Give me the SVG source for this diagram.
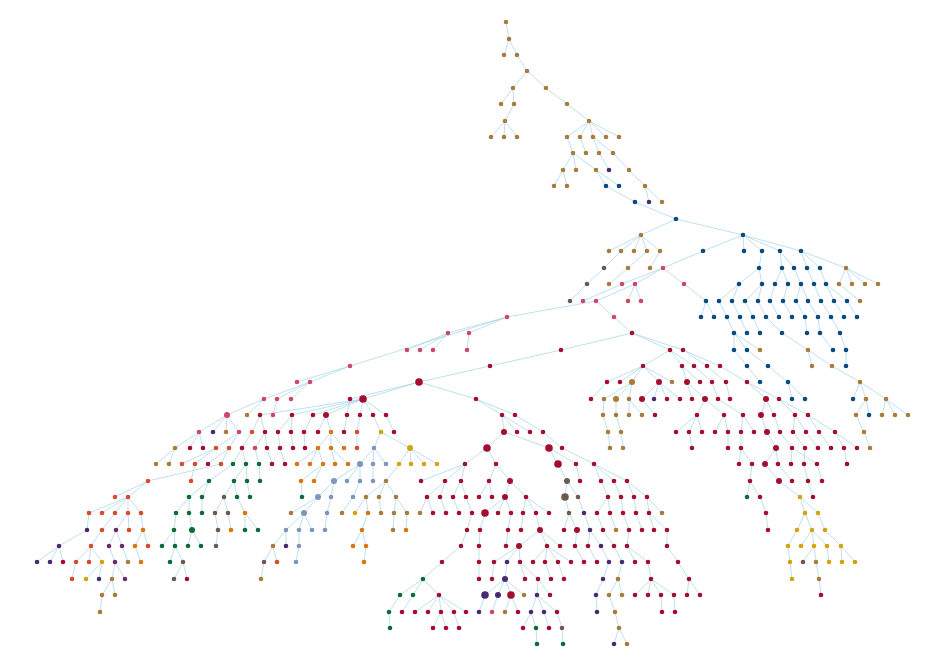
<svg xmlns="http://www.w3.org/2000/svg" width="946" height="672" viewBox="0 0 946 672">
<style>
#connectors path{fill:none;stroke:#9fd2e6;stroke-width:0.8;stroke-opacity:0.85}
circle{r:2.3px}
.M{r:3px}.L{r:3.8px}
.b{fill:#a87b3b}.u{fill:#084a7c}.p{fill:#482a70}.k{fill:#cf4767}.c{fill:#a50d2f}.r{fill:#d94a2b}.o{fill:#d9740e}.g{fill:#d4a30c}.s{fill:#7d95b7}.n{fill:#0b6b36}.m{fill:#6d5a4f}.v{fill:#6c2a6b}
</style>
<rect width="946" height="672" fill="#fff"/>
<g id="connectors">
<path d="M506 22L509 39M509 39L504 55M509 39L517 55M517 55L527 71M527 71L513 88M527 71L546 88M513 88L501 104M513 88L514 104M514 104L505 121M505 121L491 137M505 121L504 137M505 121L517 137M546 88L567 104M567 104L589 121M589 121L567 137M589 121L580 137M589 121L593 137M589 121L606 137M589 121L619 137M567 137L573 153M580 137L586 153M593 137L599 153M593 137L613 153M573 153L563 170M573 153L576 170M573 153L596 170M599 153L609 170M613 153L629 170M563 170L554 186M563 170L567 186M596 170L606 186M596 170L619 186M629 170L645 186M606 186L635 202M645 186L649 202M645 186L662 202M635 202L676 219M676 219L641 235M676 219L743 235"/>
<path d="M641 235L609 251M641 235L621 251M641 235L634 251M641 235L647 251M641 235L660 251M621 251L604 268M647 251L628 268M660 251L650 268M604 268L587 284M628 268L609 284M587 284L570 301M743 235L703 251M743 235L744 251M743 235L762 251M743 235L780 251M743 235L801 251M703 251L663 268M762 251L759 268M780 251L782 268M780 251L794 268M801 251L807 268M801 251L820 268M801 251L846 268M663 268L622 284M663 268L635 284M663 268L684 284M759 268L739 284M759 268L762 284M782 268L775 284M782 268L788 284M794 268L801 284M807 268L814 284M820 268L826 284M846 268L839 284M846 268L852 284M846 268L865 284M846 268L878 284M622 284L583 301M635 284L596 301M635 284L628 301M635 284L641 301M684 284L706 301M739 284L719 301M739 284L732 301M762 284L745 301M762 284L758 301M775 284L770 301M788 284L783 301M801 284L796 301M801 284L808 301M814 284L821 301M826 284L834 301M826 284L847 301M839 284L860 301"/>
<path d="M596 301L507 317M596 301L614 317M706 301L701 317M706 301L714 317M719 301L727 317M732 301L740 317M745 301L753 317M758 301L766 317M770 301L779 317M783 301L792 317M796 301L805 317M808 301L818 317M821 301L831 317M834 301L844 317M847 301L857 317M507 317L448 333M507 317L469 333M507 317L350 366M614 317L632 333M727 317L734 333M740 317L747 333M753 317L760 333M766 317L782 333M805 317L807 333M818 317L820 333M831 317L840 333M448 333L407 350M448 333L420 350M448 333L433 350M469 333L467 350M632 333L561 350M632 333L670 350M632 333L683 350M734 333L734 350M734 333L747 350M734 333L760 350M782 333L808 350M820 333L833 350M840 333L846 350M561 350L490 366M670 350L643 366M670 350L682 366M670 350L694 366M683 350L707 366M683 350L720 366M734 350L747 366M747 350L768 366M808 350L812 366M808 350L832 366M846 350L846 366"/>
<path d="M350 366L297 382M350 366L310 382M490 366L419 382M643 366L607 382M643 366L620 382M643 366L632 382M643 366L659 382M643 366L672 382M682 366L687 382M682 366L700 382M694 366L712 382M707 366L726 382M720 366L747 382M747 366L760 382M768 366L788 382M832 366L860 382M310 382L264 399M310 382L277 399M310 382L291 399M419 382L350 399M419 382L363 399M419 382L476 399M607 382L591 399M632 382L604 399M632 382L616 399M632 382L629 399M659 382L642 399M659 382L654 399M659 382L667 399M659 382L680 399M687 382L692 399M687 382L705 399M712 382L718 399M726 382L730 399M747 382L766 399M747 382L779 399M788 382L792 399M788 382L805 399M860 382L853 399M860 382L866 399M860 382L886 399"/>
<path d="M264 399L227 415M264 399L247 415M277 399L273 415M363 399L260 415M363 399L292 415M363 399L313 415M363 399L326 415M363 399L360 415M363 399L373 415M363 399L386 415M350 399L347 415M476 399L502 415M476 399L515 415M604 399L603 415M616 399L616 415M629 399L629 415M629 399L642 415M642 399L655 415M705 399L697 415M705 399L724 415M718 399L743 415M766 399L761 415M766 399L774 415M779 399L795 415M779 399L808 415M866 399L856 415M866 399L869 415M886 399L882 415M886 399L895 415M886 399L908 415"/>
<path d="M227 415L199 432M227 415L213 432M227 415L226 432M227 415L239 432M260 415L252 432M260 415L265 432M292 415L278 432M292 415L291 432M313 415L304 432M326 415L318 432M326 415L331 432M347 415L344 432M360 415L357 432M373 415L381 432M386 415L394 432M502 415L504 432M502 415L517 432M502 415L530 432M515 415L543 432M603 415L608 432M616 415L621 432M697 415L676 432M697 415L689 432M697 415L702 432M724 415L715 432M724 415L728 432M743 415L741 432M743 415L754 432M761 415L767 432M774 415L780 432M795 415L793 432M795 415L806 432M808 415L819 432M808 415L835 432M856 415L864 432"/>
<path d="M199 432L175 448M199 432L190 448M199 432L203 448M239 432L216 448M239 432L229 448M252 432L242 448M265 432L255 448M265 432L267 448M278 432L280 448M291 432L293 448M304 432L305 448M331 432L318 448M331 432L331 448M331 432L344 448M357 432L357 448M381 432L374 448M381 432L410 448M504 432L487 448M504 432L549 448M543 432L562 448M608 432L610 448M621 432L623 448M689 432L692 448M728 432L728 448M741 432L741 448M767 432L776 448M780 432L792 448M793 432L805 448M806 432L818 448M819 432L831 448M835 432L844 448M835 432L857 448M864 432L870 448"/>
<path d="M175 448L156 464M175 448L169 464M216 448L182 464M216 448L195 464M229 448L208 464M229 448L221 464M242 448L233 464M242 448L246 464M255 448L259 464M267 448L272 464M280 448L285 464M318 448L297 464M318 448L310 464M318 448L323 464M331 448L335 464M331 448L348 464M374 448L360 464M374 448L373 464M374 448L386 464M410 448L399 464M410 448L411 464M410 448L424 464M410 448L437 464M487 448L465 464M487 448L496 464M549 448L558 464M549 448L576 464M562 448L594 464M741 448L739 464M741 448L752 464M776 448L765 464M776 448L778 464M792 448L791 464M792 448L817 464M805 448L804 464M844 448L847 464"/>
<path d="M221 464L148 481M195 464L191 481M233 464L209 481M246 464L234 481M246 464L247 481M259 464L260 481M323 464L301 481M323 464L314 481M360 464L334 481M360 464L347 481M360 464L360 481M373 464L373 481M399 464L386 481M465 464L421 481M465 464L445 481M465 464L461 481M496 464L489 481M496 464L510 481M558 464L567 481M576 464L580 481M594 464L601 481M594 464L614 481M594 464L627 481M752 464L750 481M765 464L779 481M778 464L792 481M804 464L808 481M817 464L822 481"/>
<path d="M148 481L115 497M148 481L128 497M209 481L189 497M209 481L202 497M234 481L224 497M234 481L237 497M247 481L250 497M301 481L302 497M334 481L318 497M334 481L331 497M360 481L353 497M386 481L366 497M386 481L379 497M386 481L396 497M445 481L427 497M445 481L440 497M461 481L453 497M461 481L466 497M489 481L479 497M489 481L492 497M510 481L505 497M510 481L526 497M567 481L565 497M567 481L578 497M601 481L608 497M614 481L621 497M627 481L634 497M627 481L647 497M750 481L747 497M750 481L760 497M779 481L800 497M808 481L813 497"/>
<path d="M128 497L89 513M128 497L102 513M128 497L115 513M128 497L128 513M128 497L141 513M189 497L176 513M189 497L189 513M202 497L202 513M224 497L215 513M224 497L228 513M237 497L245 513M318 497L291 513M318 497L304 513M331 497L327 513M353 497L342 513M366 497L355 513M366 497L368 513M379 497L381 513M396 497L394 513M396 497L407 513M427 497L420 513M427 497L433 513M440 497L446 513M453 497L459 513M466 497L472 513M505 497L485 513M505 497L498 513M505 497L511 513M526 497L523 513M526 497L536 513M526 497L549 513M565 497L569 513M578 497L584 513M608 497L597 513M608 497L610 513M621 497L623 513M634 497L636 513M647 497L649 513M647 497L662 513M760 497L766 513M800 497L805 513M800 497L818 513"/>
<path d="M89 513L87 530M115 513L102 530M128 513L116 530M128 513L129 530M141 513L143 530M176 513L174 530M189 513L192 530M215 513L218 530M228 513L231 530M245 513L245 530M245 513L258 530M304 513L286 530M304 513L299 530M304 513L312 530M327 513L325 530M368 513L362 530M394 513L393 530M407 513L406 530M472 513L467 530M485 513L480 530M511 513L508 530M523 513L521 530M536 513L540 530M569 513L564 530M569 513L577 530M584 513L590 530M597 513L603 530M610 513L616 530M623 513L629 530M636 513L642 530M649 513L654 530M649 513L667 530M766 513L768 530M805 513L797 530M805 513L812 530M818 513L825 530"/>
<path d="M87 530L59 546M102 530L91 546M116 530L109 546M116 530L122 546M143 530L135 546M143 530L148 546M174 530L162 546M174 530L175 546M192 530L188 546M192 530L201 546M218 530L216 546M286 530L273 546M286 530L286 546M299 530L299 546M362 530L353 546M362 530L366 546M467 530L461 546M480 530L479 546M508 530L506 546M540 530L519 546M540 530L547 546M540 530L560 546M577 530L575 546M590 530L588 546M590 530L601 546M603 530L614 546M629 530L627 546M667 530L667 546M797 530L788 546M812 530L801 546M812 530L814 546M812 530L827 546M825 530L841 546"/>
<path d="M59 546L37 562M59 546L50 562M59 546L63 562M91 546L76 562M91 546L89 562M91 546L102 562M109 546L115 562M122 546L128 562M135 546L141 562M175 546L170 562M175 546L183 562M273 546L264 562M273 546L277 562M299 546L296 562M366 546L364 562M461 546L442 562M479 546L479 562M519 546L494 562M519 546L507 562M519 546L520 562M547 546L533 562M547 546L545 562M547 546L558 562M547 546L571 562M575 546L584 562M588 546L597 562M601 546L609 562M614 546L622 562M627 546L635 562M627 546L648 562M667 546L678 562M788 546L790 562M814 546L803 562M814 546L816 562M827 546L829 562M841 546L842 562M841 546L855 562"/>
<path d="M76 562L72 579M102 562L86 579M102 562L99 579M115 562L112 579M115 562L125 579M183 562L174 579M183 562L187 579M264 562L261 579M442 562L423 579M479 562L479 579M494 562L492 579M507 562L505 579M520 562L525 579M520 562L538 579M545 562L551 579M558 562L564 579M609 562L603 579M622 562L618 579M648 562L651 579M678 562L689 579M790 562L792 579M816 562L819 579"/>
<path d="M112 579L102 595M112 579L115 595M423 579L400 595M423 579L413 595M423 579L439 595M505 579L485 595M505 579L498 595M505 579L511 595M505 579L524 595M538 579L537 595M538 579L550 595M603 579L596 595M618 579L609 595M618 579L622 595M651 579L635 595M651 579L648 595M651 579L661 595M651 579L674 595M689 579L687 595M689 579L700 595M819 579L821 595"/>
<path d="M102 595L100 612M400 595L389 612M413 595L402 612M439 595L415 612M439 595L428 612M439 595L441 612M439 595L454 612M439 595L466 612M485 595L479 612M498 595L492 612M511 595L505 612M511 595L518 612M537 595L531 612M537 595L544 612M537 595L557 612M596 595L597 612M609 595L615 612M661 595L662 612M674 595L675 612M389 612L390 628M441 612L433 628M441 612L446 628M454 612L459 628M531 612L523 628M531 612L536 628M544 612L549 628M557 612L562 628M615 612L619 628M536 628L537 644M562 628L563 644M619 628L614 644M619 628L627 644"/>
</g>
<g id="nodes">
<g id="n1"><circle class="b" cx="506" cy="22"/></g>
<g id="n2"><circle class="b" cx="509" cy="39"/></g>
<g id="n3"><circle class="b" cx="504" cy="55"/></g>
<g id="n4"><circle class="b" cx="517" cy="55"/></g>
<g id="n5"><circle class="b" cx="527" cy="71"/></g>
<g id="n6"><circle class="b" cx="513" cy="88"/></g>
<g id="n7"><circle class="b" cx="546" cy="88"/></g>
<g id="n8"><circle class="b" cx="501" cy="104"/></g>
<g id="n9"><circle class="b" cx="514" cy="104"/></g>
<g id="n10"><circle class="b" cx="505" cy="121"/></g>
<g id="n11"><circle class="b" cx="491" cy="137"/></g>
<g id="n12"><circle class="b" cx="504" cy="137"/></g>
<g id="n13"><circle class="b" cx="517" cy="137"/></g>
<g id="n14"><circle class="b" cx="567" cy="104"/></g>
<g id="n15"><circle class="b" cx="589" cy="121"/></g>
<g id="n16"><circle class="b" cx="567" cy="137"/></g>
<g id="n17"><circle class="b" cx="580" cy="137"/></g>
<g id="n18"><circle class="b" cx="593" cy="137"/></g>
<g id="n19"><circle class="b" cx="606" cy="137"/></g>
<g id="n20"><circle class="b" cx="619" cy="137"/></g>
<g id="n21"><circle class="b" cx="573" cy="153"/></g>
<g id="n22"><circle class="b" cx="586" cy="153"/></g>
<g id="n23"><circle class="b" cx="599" cy="153"/></g>
<g id="n24"><circle class="b" cx="613" cy="153"/></g>
<g id="n25"><circle class="b" cx="563" cy="170"/></g>
<g id="n26"><circle class="b" cx="576" cy="170"/></g>
<g id="n27"><circle class="b" cx="596" cy="170"/></g>
<g id="n28"><circle class="p" cx="609" cy="170"/></g>
<g id="n29"><circle class="b" cx="629" cy="170"/></g>
<g id="n30"><circle class="b" cx="554" cy="186"/></g>
<g id="n31"><circle class="b" cx="567" cy="186"/></g>
<g id="n32"><circle class="u" cx="606" cy="186"/></g>
<g id="n33"><circle class="u" cx="619" cy="186"/></g>
<g id="n34"><circle class="b" cx="645" cy="186"/></g>
<g id="n35"><circle class="u" cx="635" cy="202"/></g>
<g id="n36"><circle class="p" cx="649" cy="202"/></g>
<g id="n37"><circle class="b" cx="662" cy="202"/></g>
<g id="n38"><circle class="u" cx="676" cy="219"/></g>
<g id="n39"><circle class="b" cx="641" cy="235"/></g>
<g id="n40"><circle class="u" cx="743" cy="235"/></g>
<g id="n41"><circle class="b" cx="609" cy="251"/></g>
<g id="n42"><circle class="b" cx="621" cy="251"/></g>
<g id="n43"><circle class="b" cx="634" cy="251"/></g>
<g id="n44"><circle class="b" cx="647" cy="251"/></g>
<g id="n45"><circle class="b" cx="660" cy="251"/></g>
<g id="n46"><circle class="m" cx="604" cy="268"/></g>
<g id="n47"><circle class="b" cx="628" cy="268"/></g>
<g id="n48"><circle class="b" cx="650" cy="268"/></g>
<g id="n49"><circle class="m" cx="587" cy="284"/></g>
<g id="n50"><circle class="b" cx="609" cy="284"/></g>
<g id="n51"><circle class="m" cx="570" cy="301"/></g>
<g id="n52"><circle class="u" cx="703" cy="251"/></g>
<g id="n53"><circle class="u" cx="744" cy="251"/></g>
<g id="n54"><circle class="u" cx="762" cy="251"/></g>
<g id="n55"><circle class="u" cx="780" cy="251"/></g>
<g id="n56"><circle class="u" cx="801" cy="251"/></g>
<g id="n57"><circle class="k" cx="663" cy="268"/></g>
<g id="n58"><circle class="u" cx="759" cy="268"/></g>
<g id="n59"><circle class="u" cx="782" cy="268"/></g>
<g id="n60"><circle class="u" cx="794" cy="268"/></g>
<g id="n61"><circle class="u" cx="807" cy="268"/></g>
<g id="n62"><circle class="u" cx="820" cy="268"/></g>
<g id="n63"><circle class="b" cx="846" cy="268"/></g>
<g id="n64"><circle class="k" cx="622" cy="284"/></g>
<g id="n65"><circle class="k" cx="635" cy="284"/></g>
<g id="n66"><circle class="k" cx="684" cy="284"/></g>
<g id="n67"><circle class="u" cx="739" cy="284"/></g>
<g id="n68"><circle class="u" cx="762" cy="284"/></g>
<g id="n69"><circle class="u" cx="775" cy="284"/></g>
<g id="n70"><circle class="u" cx="788" cy="284"/></g>
<g id="n71"><circle class="u" cx="801" cy="284"/></g>
<g id="n72"><circle class="u" cx="814" cy="284"/></g>
<g id="n73"><circle class="u" cx="826" cy="284"/></g>
<g id="n74"><circle class="b" cx="839" cy="284"/></g>
<g id="n75"><circle class="b" cx="852" cy="284"/></g>
<g id="n76"><circle class="b" cx="865" cy="284"/></g>
<g id="n77"><circle class="b" cx="878" cy="284"/></g>
<g id="n78"><circle class="k" cx="583" cy="301"/></g>
<g id="n79"><circle class="k" cx="596" cy="301"/></g>
<g id="n80"><circle class="k" cx="628" cy="301"/></g>
<g id="n81"><circle class="k" cx="641" cy="301"/></g>
<g id="n82"><circle class="u" cx="706" cy="301"/></g>
<g id="n83"><circle class="u" cx="719" cy="301"/></g>
<g id="n84"><circle class="u" cx="732" cy="301"/></g>
<g id="n85"><circle class="u" cx="745" cy="301"/></g>
<g id="n86"><circle class="u" cx="758" cy="301"/></g>
<g id="n87"><circle class="u" cx="770" cy="301"/></g>
<g id="n88"><circle class="u" cx="783" cy="301"/></g>
<g id="n89"><circle class="u" cx="796" cy="301"/></g>
<g id="n90"><circle class="u" cx="808" cy="301"/></g>
<g id="n91"><circle class="u" cx="821" cy="301"/></g>
<g id="n92"><circle class="u" cx="834" cy="301"/></g>
<g id="n93"><circle class="u" cx="847" cy="301"/></g>
<g id="n94"><circle class="b" cx="860" cy="301"/></g>
<g id="n95"><circle class="k" cx="507" cy="317"/></g>
<g id="n96"><circle class="k" cx="614" cy="317"/></g>
<g id="n97"><circle class="u" cx="701" cy="317"/></g>
<g id="n98"><circle class="u" cx="714" cy="317"/></g>
<g id="n99"><circle class="u" cx="727" cy="317"/></g>
<g id="n100"><circle class="u" cx="740" cy="317"/></g>
<g id="n101"><circle class="u" cx="753" cy="317"/></g>
<g id="n102"><circle class="u" cx="766" cy="317"/></g>
<g id="n103"><circle class="u" cx="779" cy="317"/></g>
<g id="n104"><circle class="u" cx="792" cy="317"/></g>
<g id="n105"><circle class="u" cx="805" cy="317"/></g>
<g id="n106"><circle class="u" cx="818" cy="317"/></g>
<g id="n107"><circle class="u" cx="831" cy="317"/></g>
<g id="n108"><circle class="u" cx="844" cy="317"/></g>
<g id="n109"><circle class="u" cx="857" cy="317"/></g>
<g id="n110"><circle class="k" cx="448" cy="333"/></g>
<g id="n111"><circle class="k" cx="469" cy="333"/></g>
<g id="n112"><circle class="c" cx="632" cy="333"/></g>
<g id="n113"><circle class="u" cx="734" cy="333"/></g>
<g id="n114"><circle class="u" cx="747" cy="333"/></g>
<g id="n115"><circle class="u" cx="760" cy="333"/></g>
<g id="n116"><circle class="u" cx="782" cy="333"/></g>
<g id="n117"><circle class="u" cx="807" cy="333"/></g>
<g id="n118"><circle class="u" cx="820" cy="333"/></g>
<g id="n119"><circle class="u" cx="840" cy="333"/></g>
<g id="n120"><circle class="k" cx="407" cy="350"/></g>
<g id="n121"><circle class="k" cx="420" cy="350"/></g>
<g id="n122"><circle class="k" cx="433" cy="350"/></g>
<g id="n123"><circle class="k" cx="467" cy="350"/></g>
<g id="n124"><circle class="c" cx="561" cy="350"/></g>
<g id="n125"><circle class="c" cx="670" cy="350"/></g>
<g id="n126"><circle class="c" cx="683" cy="350"/></g>
<g id="n127"><circle class="u" cx="734" cy="350"/></g>
<g id="n128"><circle class="u" cx="747" cy="350"/></g>
<g id="n129"><circle class="b" cx="760" cy="350"/></g>
<g id="n130"><circle class="b" cx="808" cy="350"/></g>
<g id="n131"><circle class="u" cx="833" cy="350"/></g>
<g id="n132"><circle class="u" cx="846" cy="350"/></g>
<g id="n133"><circle class="k" cx="350" cy="366"/></g>
<g id="n134"><circle class="c" cx="490" cy="366"/></g>
<g id="n135"><circle class="c" cx="643" cy="366"/></g>
<g id="n136"><circle class="c" cx="682" cy="366"/></g>
<g id="n137"><circle class="c" cx="694" cy="366"/></g>
<g id="n138"><circle class="c" cx="707" cy="366"/></g>
<g id="n139"><circle class="c" cx="720" cy="366"/></g>
<g id="n140"><circle class="u" cx="747" cy="366"/></g>
<g id="n141"><circle class="u" cx="768" cy="366"/></g>
<g id="n142"><circle class="b" cx="812" cy="366"/></g>
<g id="n143"><circle class="b" cx="832" cy="366"/></g>
<g id="n144"><circle class="u" cx="846" cy="366"/></g>
<g id="n145"><circle class="k" cx="297" cy="382"/></g>
<g id="n146"><circle class="k" cx="310" cy="382"/></g>
<g id="n147"><circle class="c L" cx="419" cy="382"/></g>
<g id="n148"><circle class="c" cx="607" cy="382"/></g>
<g id="n149"><circle class="c" cx="620" cy="382"/></g>
<g id="n150"><circle class="b M" cx="632" cy="382"/></g>
<g id="n151"><circle class="c M" cx="659" cy="382"/></g>
<g id="n152"><circle class="b" cx="672" cy="382"/></g>
<g id="n153"><circle class="c M" cx="687" cy="382"/></g>
<g id="n154"><circle class="c" cx="700" cy="382"/></g>
<g id="n155"><circle class="c" cx="712" cy="382"/></g>
<g id="n156"><circle class="c" cx="726" cy="382"/></g>
<g id="n157"><circle class="c" cx="747" cy="382"/></g>
<g id="n158"><circle class="u" cx="760" cy="382"/></g>
<g id="n159"><circle class="u" cx="788" cy="382"/></g>
<g id="n160"><circle class="b" cx="860" cy="382"/></g>
<g id="n161"><circle class="k" cx="264" cy="399"/></g>
<g id="n162"><circle class="k" cx="277" cy="399"/></g>
<g id="n163"><circle class="k" cx="291" cy="399"/></g>
<g id="n164"><circle class="c" cx="350" cy="399"/></g>
<g id="n165"><circle class="c L" cx="363" cy="399"/></g>
<g id="n166"><circle class="c" cx="476" cy="399"/></g>
<g id="n167"><circle class="c" cx="591" cy="399"/></g>
<g id="n168"><circle class="b" cx="604" cy="399"/></g>
<g id="n169"><circle class="b M" cx="616" cy="399"/></g>
<g id="n170"><circle class="b" cx="629" cy="399"/></g>
<g id="n171"><circle class="c M" cx="642" cy="399"/></g>
<g id="n172"><circle class="p" cx="654" cy="399"/></g>
<g id="n173"><circle class="c" cx="667" cy="399"/></g>
<g id="n174"><circle class="c" cx="680" cy="399"/></g>
<g id="n175"><circle class="c" cx="692" cy="399"/></g>
<g id="n176"><circle class="c M" cx="705" cy="399"/></g>
<g id="n177"><circle class="c" cx="718" cy="399"/></g>
<g id="n178"><circle class="c" cx="730" cy="399"/></g>
<g id="n179"><circle class="c M" cx="766" cy="399"/></g>
<g id="n180"><circle class="c" cx="779" cy="399"/></g>
<g id="n181"><circle class="u" cx="792" cy="399"/></g>
<g id="n182"><circle class="u" cx="805" cy="399"/></g>
<g id="n183"><circle class="u" cx="853" cy="399"/></g>
<g id="n184"><circle class="b" cx="866" cy="399"/></g>
<g id="n185"><circle class="b" cx="886" cy="399"/></g>
<g id="n186"><circle class="k M" cx="227" cy="415"/></g>
<g id="n187"><circle class="b" cx="247" cy="415"/></g>
<g id="n188"><circle class="c" cx="260" cy="415"/></g>
<g id="n189"><circle class="k" cx="273" cy="415"/></g>
<g id="n190"><circle class="c" cx="292" cy="415"/></g>
<g id="n191"><circle class="c" cx="313" cy="415"/></g>
<g id="n192"><circle class="c M" cx="326" cy="415"/></g>
<g id="n193"><circle class="c" cx="347" cy="415"/></g>
<g id="n194"><circle class="c" cx="360" cy="415"/></g>
<g id="n195"><circle class="c" cx="373" cy="415"/></g>
<g id="n196"><circle class="c" cx="386" cy="415"/></g>
<g id="n197"><circle class="c" cx="502" cy="415"/></g>
<g id="n198"><circle class="c" cx="515" cy="415"/></g>
<g id="n199"><circle class="b" cx="603" cy="415"/></g>
<g id="n200"><circle class="b" cx="616" cy="415"/></g>
<g id="n201"><circle class="b" cx="629" cy="415"/></g>
<g id="n202"><circle class="b" cx="642" cy="415"/></g>
<g id="n203"><circle class="c" cx="655" cy="415"/></g>
<g id="n204"><circle class="c" cx="697" cy="415"/></g>
<g id="n205"><circle class="c" cx="724" cy="415"/></g>
<g id="n206"><circle class="c" cx="743" cy="415"/></g>
<g id="n207"><circle class="c M" cx="761" cy="415"/></g>
<g id="n208"><circle class="c" cx="774" cy="415"/></g>
<g id="n209"><circle class="c" cx="795" cy="415"/></g>
<g id="n210"><circle class="c" cx="808" cy="415"/></g>
<g id="n211"><circle class="b" cx="856" cy="415"/></g>
<g id="n212"><circle class="u" cx="869" cy="415"/></g>
<g id="n213"><circle class="b" cx="882" cy="415"/></g>
<g id="n214"><circle class="b" cx="895" cy="415"/></g>
<g id="n215"><circle class="b" cx="908" cy="415"/></g>
<g id="n216"><circle class="k" cx="199" cy="432"/></g>
<g id="n217"><circle class="p" cx="213" cy="432"/></g>
<g id="n218"><circle class="b" cx="226" cy="432"/></g>
<g id="n219"><circle class="k" cx="239" cy="432"/></g>
<g id="n220"><circle class="r" cx="252" cy="432"/></g>
<g id="n221"><circle class="c" cx="265" cy="432"/></g>
<g id="n222"><circle class="c" cx="278" cy="432"/></g>
<g id="n223"><circle class="c" cx="291" cy="432"/></g>
<g id="n224"><circle class="c" cx="304" cy="432"/></g>
<g id="n225"><circle class="c" cx="318" cy="432"/></g>
<g id="n226"><circle class="o" cx="331" cy="432"/></g>
<g id="n227"><circle class="c" cx="344" cy="432"/></g>
<g id="n228"><circle class="r" cx="357" cy="432"/></g>
<g id="n229"><circle class="g" cx="381" cy="432"/></g>
<g id="n230"><circle class="c" cx="394" cy="432"/></g>
<g id="n231"><circle class="c M" cx="504" cy="432"/></g>
<g id="n232"><circle class="c" cx="517" cy="432"/></g>
<g id="n233"><circle class="c" cx="530" cy="432"/></g>
<g id="n234"><circle class="c" cx="543" cy="432"/></g>
<g id="n235"><circle class="b" cx="608" cy="432"/></g>
<g id="n236"><circle class="b" cx="621" cy="432"/></g>
<g id="n237"><circle class="c" cx="676" cy="432"/></g>
<g id="n238"><circle class="c" cx="689" cy="432"/></g>
<g id="n239"><circle class="c" cx="702" cy="432"/></g>
<g id="n240"><circle class="c" cx="715" cy="432"/></g>
<g id="n241"><circle class="c" cx="728" cy="432"/></g>
<g id="n242"><circle class="c" cx="741" cy="432"/></g>
<g id="n243"><circle class="c" cx="754" cy="432"/></g>
<g id="n244"><circle class="c M" cx="767" cy="432"/></g>
<g id="n245"><circle class="c" cx="780" cy="432"/></g>
<g id="n246"><circle class="c" cx="793" cy="432"/></g>
<g id="n247"><circle class="c" cx="806" cy="432"/></g>
<g id="n248"><circle class="c" cx="819" cy="432"/></g>
<g id="n249"><circle class="c" cx="835" cy="432"/></g>
<g id="n250"><circle class="b" cx="864" cy="432"/></g>
<g id="n251"><circle class="b" cx="175" cy="448"/></g>
<g id="n252"><circle class="c" cx="190" cy="448"/></g>
<g id="n253"><circle class="c" cx="203" cy="448"/></g>
<g id="n254"><circle class="r" cx="216" cy="448"/></g>
<g id="n255"><circle class="r" cx="229" cy="448"/></g>
<g id="n256"><circle class="c" cx="242" cy="448"/></g>
<g id="n257"><circle class="k" cx="255" cy="448"/></g>
<g id="n258"><circle class="c" cx="267" cy="448"/></g>
<g id="n259"><circle class="c" cx="280" cy="448"/></g>
<g id="n260"><circle class="c" cx="293" cy="448"/></g>
<g id="n261"><circle class="c" cx="305" cy="448"/></g>
<g id="n262"><circle class="o" cx="318" cy="448"/></g>
<g id="n263"><circle class="o" cx="331" cy="448"/></g>
<g id="n264"><circle class="o" cx="344" cy="448"/></g>
<g id="n265"><circle class="r" cx="357" cy="448"/></g>
<g id="n266"><circle class="s" cx="374" cy="448"/></g>
<g id="n267"><circle class="g M" cx="410" cy="448"/></g>
<g id="n268"><circle class="c L" cx="487" cy="448"/></g>
<g id="n269"><circle class="c L" cx="549" cy="448"/></g>
<g id="n270"><circle class="c" cx="562" cy="448"/></g>
<g id="n271"><circle class="b" cx="610" cy="448"/></g>
<g id="n272"><circle class="b" cx="623" cy="448"/></g>
<g id="n273"><circle class="c" cx="692" cy="448"/></g>
<g id="n274"><circle class="c" cx="728" cy="448"/></g>
<g id="n275"><circle class="c" cx="741" cy="448"/></g>
<g id="n276"><circle class="c M" cx="776" cy="448"/></g>
<g id="n277"><circle class="c" cx="792" cy="448"/></g>
<g id="n278"><circle class="c" cx="805" cy="448"/></g>
<g id="n279"><circle class="c" cx="818" cy="448"/></g>
<g id="n280"><circle class="c" cx="831" cy="448"/></g>
<g id="n281"><circle class="c" cx="844" cy="448"/></g>
<g id="n282"><circle class="c" cx="857" cy="448"/></g>
<g id="n283"><circle class="b" cx="870" cy="448"/></g>
<g id="n284"><circle class="b" cx="156" cy="464"/></g>
<g id="n285"><circle class="b" cx="169" cy="464"/></g>
<g id="n286"><circle class="r" cx="182" cy="464"/></g>
<g id="n287"><circle class="r" cx="195" cy="464"/></g>
<g id="n288"><circle class="c" cx="208" cy="464"/></g>
<g id="n289"><circle class="r" cx="221" cy="464"/></g>
<g id="n290"><circle class="n" cx="233" cy="464"/></g>
<g id="n291"><circle class="n" cx="246" cy="464"/></g>
<g id="n292"><circle class="n" cx="259" cy="464"/></g>
<g id="n293"><circle class="c" cx="272" cy="464"/></g>
<g id="n294"><circle class="c" cx="285" cy="464"/></g>
<g id="n295"><circle class="o" cx="297" cy="464"/></g>
<g id="n296"><circle class="o" cx="310" cy="464"/></g>
<g id="n297"><circle class="o" cx="323" cy="464"/></g>
<g id="n298"><circle class="o" cx="335" cy="464"/></g>
<g id="n299"><circle class="o" cx="348" cy="464"/></g>
<g id="n300"><circle class="s M" cx="360" cy="464"/></g>
<g id="n301"><circle class="s" cx="373" cy="464"/></g>
<g id="n302"><circle class="s" cx="386" cy="464"/></g>
<g id="n303"><circle class="g" cx="399" cy="464"/></g>
<g id="n304"><circle class="g" cx="411" cy="464"/></g>
<g id="n305"><circle class="g" cx="424" cy="464"/></g>
<g id="n306"><circle class="g" cx="437" cy="464"/></g>
<g id="n307"><circle class="c" cx="465" cy="464"/></g>
<g id="n308"><circle class="c" cx="496" cy="464"/></g>
<g id="n309"><circle class="c L" cx="558" cy="464"/></g>
<g id="n310"><circle class="c" cx="576" cy="464"/></g>
<g id="n311"><circle class="c" cx="594" cy="464"/></g>
<g id="n312"><circle class="c" cx="739" cy="464"/></g>
<g id="n313"><circle class="c" cx="752" cy="464"/></g>
<g id="n314"><circle class="c M" cx="765" cy="464"/></g>
<g id="n315"><circle class="c" cx="778" cy="464"/></g>
<g id="n316"><circle class="c" cx="791" cy="464"/></g>
<g id="n317"><circle class="c" cx="804" cy="464"/></g>
<g id="n318"><circle class="c" cx="817" cy="464"/></g>
<g id="n319"><circle class="c" cx="847" cy="464"/></g>
<g id="n320"><circle class="r" cx="148" cy="481"/></g>
<g id="n321"><circle class="r" cx="191" cy="481"/></g>
<g id="n322"><circle class="n" cx="209" cy="481"/></g>
<g id="n323"><circle class="n" cx="234" cy="481"/></g>
<g id="n324"><circle class="n" cx="247" cy="481"/></g>
<g id="n325"><circle class="n" cx="260" cy="481"/></g>
<g id="n326"><circle class="o" cx="301" cy="481"/></g>
<g id="n327"><circle class="o" cx="314" cy="481"/></g>
<g id="n328"><circle class="s M" cx="334" cy="481"/></g>
<g id="n329"><circle class="s" cx="347" cy="481"/></g>
<g id="n330"><circle class="s" cx="360" cy="481"/></g>
<g id="n331"><circle class="s" cx="373" cy="481"/></g>
<g id="n332"><circle class="b" cx="386" cy="481"/></g>
<g id="n333"><circle class="c" cx="421" cy="481"/></g>
<g id="n334"><circle class="c" cx="445" cy="481"/></g>
<g id="n335"><circle class="c" cx="461" cy="481"/></g>
<g id="n336"><circle class="c" cx="489" cy="481"/></g>
<g id="n337"><circle class="c M" cx="510" cy="481"/></g>
<g id="n338"><circle class="m M" cx="567" cy="481"/></g>
<g id="n339"><circle class="c" cx="580" cy="481"/></g>
<g id="n340"><circle class="c" cx="601" cy="481"/></g>
<g id="n341"><circle class="c" cx="614" cy="481"/></g>
<g id="n342"><circle class="c" cx="627" cy="481"/></g>
<g id="n343"><circle class="c" cx="750" cy="481"/></g>
<g id="n344"><circle class="c M" cx="779" cy="481"/></g>
<g id="n345"><circle class="c" cx="792" cy="481"/></g>
<g id="n346"><circle class="c" cx="808" cy="481"/></g>
<g id="n347"><circle class="c" cx="822" cy="481"/></g>
<g id="n348"><circle class="r" cx="115" cy="497"/></g>
<g id="n349"><circle class="r" cx="128" cy="497"/></g>
<g id="n350"><circle class="n" cx="189" cy="497"/></g>
<g id="n351"><circle class="n" cx="202" cy="497"/></g>
<g id="n352"><circle class="m" cx="224" cy="497"/></g>
<g id="n353"><circle class="n" cx="237" cy="497"/></g>
<g id="n354"><circle class="n" cx="250" cy="497"/></g>
<g id="n355"><circle class="n" cx="302" cy="497"/></g>
<g id="n356"><circle class="s M" cx="318" cy="497"/></g>
<g id="n357"><circle class="s" cx="331" cy="497"/></g>
<g id="n358"><circle class="s" cx="353" cy="497"/></g>
<g id="n359"><circle class="b" cx="366" cy="497"/></g>
<g id="n360"><circle class="b" cx="379" cy="497"/></g>
<g id="n361"><circle class="b" cx="396" cy="497"/></g>
<g id="n362"><circle class="c" cx="427" cy="497"/></g>
<g id="n363"><circle class="c" cx="440" cy="497"/></g>
<g id="n364"><circle class="c" cx="453" cy="497"/></g>
<g id="n365"><circle class="c" cx="466" cy="497"/></g>
<g id="n366"><circle class="c" cx="479" cy="497"/></g>
<g id="n367"><circle class="c" cx="492" cy="497"/></g>
<g id="n368"><circle class="c M" cx="505" cy="497"/></g>
<g id="n369"><circle class="c" cx="526" cy="497"/></g>
<g id="n370"><circle class="m L" cx="565" cy="497"/></g>
<g id="n371"><circle class="m" cx="578" cy="497"/></g>
<g id="n372"><circle class="c" cx="608" cy="497"/></g>
<g id="n373"><circle class="c" cx="621" cy="497"/></g>
<g id="n374"><circle class="c" cx="634" cy="497"/></g>
<g id="n375"><circle class="c" cx="647" cy="497"/></g>
<g id="n376"><circle class="n" cx="747" cy="497"/></g>
<g id="n377"><circle class="c" cx="760" cy="497"/></g>
<g id="n378"><circle class="g" cx="800" cy="497"/></g>
<g id="n379"><circle class="c" cx="813" cy="497"/></g>
<g id="n380"><circle class="r" cx="89" cy="513"/></g>
<g id="n381"><circle class="r" cx="102" cy="513"/></g>
<g id="n382"><circle class="r" cx="115" cy="513"/></g>
<g id="n383"><circle class="r" cx="128" cy="513"/></g>
<g id="n384"><circle class="r" cx="141" cy="513"/></g>
<g id="n385"><circle class="n" cx="176" cy="513"/></g>
<g id="n386"><circle class="n" cx="189" cy="513"/></g>
<g id="n387"><circle class="n" cx="202" cy="513"/></g>
<g id="n388"><circle class="m" cx="215" cy="513"/></g>
<g id="n389"><circle class="m" cx="228" cy="513"/></g>
<g id="n390"><circle class="o" cx="245" cy="513"/></g>
<g id="n391"><circle class="b" cx="291" cy="513"/></g>
<g id="n392"><circle class="s M" cx="304" cy="513"/></g>
<g id="n393"><circle class="s" cx="327" cy="513"/></g>
<g id="n394"><circle class="b" cx="342" cy="513"/></g>
<g id="n395"><circle class="g" cx="355" cy="513"/></g>
<g id="n396"><circle class="o" cx="368" cy="513"/></g>
<g id="n397"><circle class="b" cx="381" cy="513"/></g>
<g id="n398"><circle class="b" cx="394" cy="513"/></g>
<g id="n399"><circle class="b" cx="407" cy="513"/></g>
<g id="n400"><circle class="b" cx="420" cy="513"/></g>
<g id="n401"><circle class="c" cx="433" cy="513"/></g>
<g id="n402"><circle class="c" cx="446" cy="513"/></g>
<g id="n403"><circle class="c" cx="459" cy="513"/></g>
<g id="n404"><circle class="c" cx="472" cy="513"/></g>
<g id="n405"><circle class="c L" cx="485" cy="513"/></g>
<g id="n406"><circle class="c" cx="498" cy="513"/></g>
<g id="n407"><circle class="c" cx="511" cy="513"/></g>
<g id="n408"><circle class="c" cx="523" cy="513"/></g>
<g id="n409"><circle class="c" cx="536" cy="513"/></g>
<g id="n410"><circle class="c" cx="549" cy="513"/></g>
<g id="n411"><circle class="m" cx="569" cy="513"/></g>
<g id="n412"><circle class="p" cx="584" cy="513"/></g>
<g id="n413"><circle class="c" cx="597" cy="513"/></g>
<g id="n414"><circle class="c" cx="610" cy="513"/></g>
<g id="n415"><circle class="c" cx="623" cy="513"/></g>
<g id="n416"><circle class="c" cx="636" cy="513"/></g>
<g id="n417"><circle class="c" cx="649" cy="513"/></g>
<g id="n418"><circle class="b" cx="662" cy="513"/></g>
<g id="n419"><circle class="c" cx="766" cy="513"/></g>
<g id="n420"><circle class="g" cx="805" cy="513"/></g>
<g id="n421"><circle class="g" cx="818" cy="513"/></g>
<g id="n422"><circle class="p" cx="87" cy="530"/></g>
<g id="n423"><circle class="r" cx="102" cy="530"/></g>
<g id="n424"><circle class="v" cx="116" cy="530"/></g>
<g id="n425"><circle class="r" cx="129" cy="530"/></g>
<g id="n426"><circle class="o" cx="143" cy="530"/></g>
<g id="n427"><circle class="n" cx="174" cy="530"/></g>
<g id="n428"><circle class="n M" cx="192" cy="530"/></g>
<g id="n429"><circle class="m" cx="218" cy="530"/></g>
<g id="n430"><circle class="o" cx="231" cy="530"/></g>
<g id="n431"><circle class="n" cx="245" cy="530"/></g>
<g id="n432"><circle class="n" cx="258" cy="530"/></g>
<g id="n433"><circle class="s" cx="286" cy="530"/></g>
<g id="n434"><circle class="s" cx="299" cy="530"/></g>
<g id="n435"><circle class="s" cx="312" cy="530"/></g>
<g id="n436"><circle class="s" cx="325" cy="530"/></g>
<g id="n437"><circle class="o" cx="362" cy="530"/></g>
<g id="n438"><circle class="b" cx="393" cy="530"/></g>
<g id="n439"><circle class="o" cx="406" cy="530"/></g>
<g id="n440"><circle class="c" cx="467" cy="530"/></g>
<g id="n441"><circle class="c" cx="480" cy="530"/></g>
<g id="n442"><circle class="c" cx="508" cy="530"/></g>
<g id="n443"><circle class="c" cx="521" cy="530"/></g>
<g id="n444"><circle class="c M" cx="540" cy="530"/></g>
<g id="n445"><circle class="c" cx="564" cy="530"/></g>
<g id="n446"><circle class="c M" cx="577" cy="530"/></g>
<g id="n447"><circle class="p" cx="590" cy="530"/></g>
<g id="n448"><circle class="c" cx="603" cy="530"/></g>
<g id="n449"><circle class="b" cx="616" cy="530"/></g>
<g id="n450"><circle class="c" cx="629" cy="530"/></g>
<g id="n451"><circle class="c" cx="642" cy="530"/></g>
<g id="n452"><circle class="c" cx="654" cy="530"/></g>
<g id="n453"><circle class="c" cx="667" cy="530"/></g>
<g id="n454"><circle class="c" cx="768" cy="530"/></g>
<g id="n455"><circle class="g" cx="797" cy="530"/></g>
<g id="n456"><circle class="g" cx="812" cy="530"/></g>
<g id="n457"><circle class="g" cx="825" cy="530"/></g>
<g id="n458"><circle class="p" cx="59" cy="546"/></g>
<g id="n459"><circle class="r" cx="91" cy="546"/></g>
<g id="n460"><circle class="v" cx="109" cy="546"/></g>
<g id="n461"><circle class="v" cx="122" cy="546"/></g>
<g id="n462"><circle class="o" cx="135" cy="546"/></g>
<g id="n463"><circle class="r" cx="148" cy="546"/></g>
<g id="n464"><circle class="n" cx="162" cy="546"/></g>
<g id="n465"><circle class="n" cx="175" cy="546"/></g>
<g id="n466"><circle class="n" cx="188" cy="546"/></g>
<g id="n467"><circle class="n" cx="201" cy="546"/></g>
<g id="n468"><circle class="m" cx="216" cy="546"/></g>
<g id="n469"><circle class="b" cx="273" cy="546"/></g>
<g id="n470"><circle class="p" cx="286" cy="546"/></g>
<g id="n471"><circle class="s" cx="299" cy="546"/></g>
<g id="n472"><circle class="o" cx="353" cy="546"/></g>
<g id="n473"><circle class="o" cx="366" cy="546"/></g>
<g id="n474"><circle class="c" cx="461" cy="546"/></g>
<g id="n475"><circle class="c" cx="479" cy="546"/></g>
<g id="n476"><circle class="c" cx="506" cy="546"/></g>
<g id="n477"><circle class="c M" cx="519" cy="546"/></g>
<g id="n478"><circle class="c" cx="547" cy="546"/></g>
<g id="n479"><circle class="c" cx="560" cy="546"/></g>
<g id="n480"><circle class="c" cx="575" cy="546"/></g>
<g id="n481"><circle class="c" cx="588" cy="546"/></g>
<g id="n482"><circle class="p" cx="601" cy="546"/></g>
<g id="n483"><circle class="c" cx="614" cy="546"/></g>
<g id="n484"><circle class="c" cx="627" cy="546"/></g>
<g id="n485"><circle class="c" cx="667" cy="546"/></g>
<g id="n486"><circle class="g" cx="788" cy="546"/></g>
<g id="n487"><circle class="g" cx="801" cy="546"/></g>
<g id="n488"><circle class="g" cx="814" cy="546"/></g>
<g id="n489"><circle class="g" cx="827" cy="546"/></g>
<g id="n490"><circle class="g" cx="841" cy="546"/></g>
<g id="n491"><circle class="p" cx="37" cy="562"/></g>
<g id="n492"><circle class="p" cx="50" cy="562"/></g>
<g id="n493"><circle class="c" cx="63" cy="562"/></g>
<g id="n494"><circle class="r" cx="76" cy="562"/></g>
<g id="n495"><circle class="r" cx="89" cy="562"/></g>
<g id="n496"><circle class="g" cx="102" cy="562"/></g>
<g id="n497"><circle class="v" cx="115" cy="562"/></g>
<g id="n498"><circle class="b" cx="128" cy="562"/></g>
<g id="n499"><circle class="o" cx="141" cy="562"/></g>
<g id="n500"><circle class="n" cx="170" cy="562"/></g>
<g id="n501"><circle class="m" cx="183" cy="562"/></g>
<g id="n502"><circle class="m" cx="264" cy="562"/></g>
<g id="n503"><circle class="r" cx="277" cy="562"/></g>
<g id="n504"><circle class="s" cx="296" cy="562"/></g>
<g id="n505"><circle class="o" cx="364" cy="562"/></g>
<g id="n506"><circle class="c" cx="442" cy="562"/></g>
<g id="n507"><circle class="c" cx="479" cy="562"/></g>
<g id="n508"><circle class="c" cx="494" cy="562"/></g>
<g id="n509"><circle class="p" cx="507" cy="562"/></g>
<g id="n510"><circle class="c" cx="520" cy="562"/></g>
<g id="n511"><circle class="c" cx="533" cy="562"/></g>
<g id="n512"><circle class="c" cx="545" cy="562"/></g>
<g id="n513"><circle class="c" cx="558" cy="562"/></g>
<g id="n514"><circle class="c" cx="571" cy="562"/></g>
<g id="n515"><circle class="c" cx="584" cy="562"/></g>
<g id="n516"><circle class="c" cx="597" cy="562"/></g>
<g id="n517"><circle class="p" cx="609" cy="562"/></g>
<g id="n518"><circle class="p" cx="622" cy="562"/></g>
<g id="n519"><circle class="c" cx="635" cy="562"/></g>
<g id="n520"><circle class="c" cx="648" cy="562"/></g>
<g id="n521"><circle class="c" cx="678" cy="562"/></g>
<g id="n522"><circle class="g" cx="790" cy="562"/></g>
<g id="n523"><circle class="m" cx="803" cy="562"/></g>
<g id="n524"><circle class="b" cx="816" cy="562"/></g>
<g id="n525"><circle class="g" cx="829" cy="562"/></g>
<g id="n526"><circle class="g" cx="842" cy="562"/></g>
<g id="n527"><circle class="g" cx="855" cy="562"/></g>
<g id="n528"><circle class="r" cx="72" cy="579"/></g>
<g id="n529"><circle class="g" cx="86" cy="579"/></g>
<g id="n530"><circle class="p" cx="99" cy="579"/></g>
<g id="n531"><circle class="b" cx="112" cy="579"/></g>
<g id="n532"><circle class="v" cx="125" cy="579"/></g>
<g id="n533"><circle class="m" cx="174" cy="579"/></g>
<g id="n534"><circle class="c" cx="187" cy="579"/></g>
<g id="n535"><circle class="b" cx="261" cy="579"/></g>
<g id="n536"><circle class="n" cx="423" cy="579"/></g>
<g id="n537"><circle class="c" cx="479" cy="579"/></g>
<g id="n538"><circle class="c" cx="492" cy="579"/></g>
<g id="n539"><circle class="p M" cx="505" cy="579"/></g>
<g id="n540"><circle class="c" cx="525" cy="579"/></g>
<g id="n541"><circle class="c" cx="538" cy="579"/></g>
<g id="n542"><circle class="c" cx="551" cy="579"/></g>
<g id="n543"><circle class="c" cx="564" cy="579"/></g>
<g id="n544"><circle class="p" cx="603" cy="579"/></g>
<g id="n545"><circle class="b" cx="618" cy="579"/></g>
<g id="n546"><circle class="c" cx="651" cy="579"/></g>
<g id="n547"><circle class="c" cx="689" cy="579"/></g>
<g id="n548"><circle class="g" cx="792" cy="579"/></g>
<g id="n549"><circle class="b" cx="819" cy="579"/></g>
<g id="n550"><circle class="b" cx="102" cy="595"/></g>
<g id="n551"><circle class="b" cx="115" cy="595"/></g>
<g id="n552"><circle class="n" cx="400" cy="595"/></g>
<g id="n553"><circle class="n" cx="413" cy="595"/></g>
<g id="n554"><circle class="c" cx="439" cy="595"/></g>
<g id="n555"><circle class="p L" cx="485" cy="595"/></g>
<g id="n556"><circle class="p M" cx="498" cy="595"/></g>
<g id="n557"><circle class="c L" cx="511" cy="595"/></g>
<g id="n558"><circle class="b" cx="524" cy="595"/></g>
<g id="n559"><circle class="p" cx="537" cy="595"/></g>
<g id="n560"><circle class="c" cx="550" cy="595"/></g>
<g id="n561"><circle class="p" cx="596" cy="595"/></g>
<g id="n562"><circle class="b" cx="609" cy="595"/></g>
<g id="n563"><circle class="b" cx="622" cy="595"/></g>
<g id="n564"><circle class="c" cx="635" cy="595"/></g>
<g id="n565"><circle class="c" cx="648" cy="595"/></g>
<g id="n566"><circle class="c" cx="661" cy="595"/></g>
<g id="n567"><circle class="c" cx="674" cy="595"/></g>
<g id="n568"><circle class="c" cx="687" cy="595"/></g>
<g id="n569"><circle class="c" cx="700" cy="595"/></g>
<g id="n570"><circle class="c" cx="821" cy="595"/></g>
<g id="n571"><circle class="b" cx="100" cy="612"/></g>
<g id="n572"><circle class="n" cx="389" cy="612"/></g>
<g id="n573"><circle class="c" cx="402" cy="612"/></g>
<g id="n574"><circle class="c" cx="415" cy="612"/></g>
<g id="n575"><circle class="c" cx="428" cy="612"/></g>
<g id="n576"><circle class="c" cx="441" cy="612"/></g>
<g id="n577"><circle class="c" cx="454" cy="612"/></g>
<g id="n578"><circle class="c" cx="466" cy="612"/></g>
<g id="n579"><circle class="p" cx="479" cy="612"/></g>
<g id="n580"><circle class="k" cx="492" cy="612"/></g>
<g id="n581"><circle class="b" cx="505" cy="612"/></g>
<g id="n582"><circle class="c" cx="518" cy="612"/></g>
<g id="n583"><circle class="p" cx="531" cy="612"/></g>
<g id="n584"><circle class="p" cx="544" cy="612"/></g>
<g id="n585"><circle class="c" cx="557" cy="612"/></g>
<g id="n586"><circle class="p" cx="597" cy="612"/></g>
<g id="n587"><circle class="b" cx="615" cy="612"/></g>
<g id="n588"><circle class="c" cx="662" cy="612"/></g>
<g id="n589"><circle class="c" cx="675" cy="612"/></g>
<g id="n590"><circle class="n" cx="390" cy="628"/></g>
<g id="n591"><circle class="c" cx="433" cy="628"/></g>
<g id="n592"><circle class="c" cx="446" cy="628"/></g>
<g id="n593"><circle class="c" cx="459" cy="628"/></g>
<g id="n594"><circle class="c" cx="523" cy="628"/></g>
<g id="n595"><circle class="n" cx="536" cy="628"/></g>
<g id="n596"><circle class="c" cx="549" cy="628"/></g>
<g id="n597"><circle class="m" cx="562" cy="628"/></g>
<g id="n598"><circle class="b" cx="619" cy="628"/></g>
<g id="n599"><circle class="n" cx="537" cy="644"/></g>
<g id="n600"><circle class="n" cx="563" cy="644"/></g>
<g id="n601"><circle class="p" cx="614" cy="644"/></g>
<g id="n602"><circle class="b" cx="627" cy="644"/></g>
</g>
</svg>
